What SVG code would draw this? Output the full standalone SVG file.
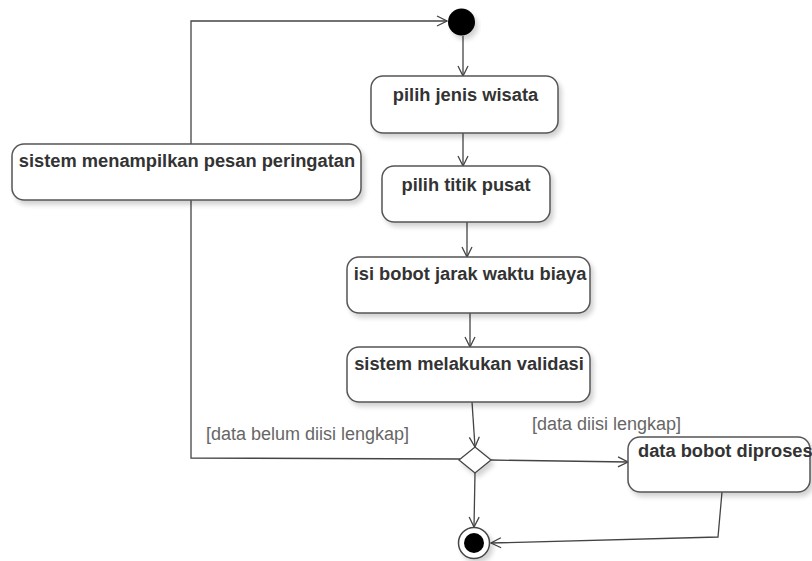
<svg xmlns="http://www.w3.org/2000/svg" width="812" height="561" viewBox="0 0 812 561">
  <defs>
    <marker id="open" viewBox="0 0 12 12" refX="11" refY="6" markerWidth="12" markerHeight="12" markerUnits="userSpaceOnUse" orient="auto">
      <path d="M1,1 L11,6 L1,11" fill="none" stroke="#444" stroke-width="1.3"/>
    </marker>
    <filter id="shadow" x="-10%" y="-10%" width="130%" height="140%">
      <feGaussianBlur in="SourceAlpha" stdDeviation="2.5"/>
      <feOffset dx="3" dy="4" result="b"/>
      <feComponentTransfer><feFuncA type="linear" slope="0.18"/></feComponentTransfer>
      <feMerge><feMergeNode/><feMergeNode in="SourceGraphic"/></feMerge>
    </filter>
  </defs>
  <style>
    .act { fill: #fff; stroke: #555; stroke-width: 1.5; filter: url(#shadow); }
    .lbl { font-family: "Liberation Sans", Arial, sans-serif; font-weight: bold; font-size: 18.3px; fill: #333; }
    .guard { font-family: "Liberation Sans", Arial, sans-serif; font-size: 18px; fill: #666; }
    .flow { fill: none; stroke: #444; stroke-width: 1.3; }
  </style>
  <rect width="812" height="561" fill="#fff"/>

  <!-- control flows -->
  <g id="connectors">
    <path class="flow" d="M460,459 L191,458 L191,21 L447,21" marker-end="url(#open)"/>
    <path class="flow" d="M463,36 L463,76" marker-end="url(#open)"/>
    <path class="flow" d="M463,133 L463,166" marker-end="url(#open)"/>
    <path class="flow" d="M467,222 L467,257" marker-end="url(#open)"/>
    <path class="flow" d="M470,313 L470,347" marker-end="url(#open)"/>
    <path class="flow" d="M472,402 L475,447" marker-end="url(#open)"/>
    <path class="flow" d="M491,460 L628,462" marker-end="url(#open)"/>
    <path class="flow" d="M475,473 L474,527" marker-end="url(#open)"/>
    <path class="flow" d="M722,492 L718,537 L491,543" marker-end="url(#open)"/>
  </g>

  <text class="guard" x="206" y="440">[data belum diisi lengkap]</text>
  <text class="guard" x="532" y="430">[data diisi lengkap]</text>

  <g id="initial">
    <circle cx="461.5" cy="22" r="13.5" fill="#000" filter="url(#shadow)"/>
  </g>

  <g id="pilih-jenis-wisata">
    <rect class="act" x="371" y="76" width="187" height="57" rx="12"/>
    <text class="lbl" x="465.5" y="101" text-anchor="middle">pilih jenis wisata</text>
  </g>

  <g id="sistem-menampilkan-pesan">
    <rect class="act" x="12" y="144" width="349" height="56" rx="12"/>
    <text class="lbl" x="187" y="167" text-anchor="middle">sistem menampilkan pesan peringatan</text>
  </g>

  <g id="pilih-titik-pusat">
    <rect class="act" x="382" y="166" width="168" height="56" rx="12"/>
    <text class="lbl" x="466" y="191" text-anchor="middle">pilih titik pusat</text>
  </g>

  <g id="isi-bobot">
    <rect class="act" x="347" y="257" width="243" height="56" rx="12"/>
    <text class="lbl" x="470" y="280" text-anchor="middle">isi bobot jarak waktu biaya</text>
  </g>

  <g id="sistem-melakukan-validasi">
    <rect class="act" x="347" y="347" width="243" height="55" rx="12"/>
    <text class="lbl" x="469" y="370" text-anchor="middle">sistem melakukan validasi</text>
  </g>

  <g id="decision">
    <path d="M475,447 L491,460 L475,473 L459,460 Z" fill="#fff" stroke="#444" stroke-width="1.3" filter="url(#shadow)"/>
  </g>

  <g id="data-bobot-diproses">
    <rect class="act" x="628" y="437" width="182" height="55" rx="12"/>
    <text class="lbl" x="638" y="457">data bobot diproses</text>
  </g>

  <g id="final">
    <circle cx="474" cy="543" r="15.5" fill="#fff" stroke="#444" stroke-width="1.5" filter="url(#shadow)"/>
    <circle cx="474" cy="543" r="10" fill="#000"/>
  </g>
</svg>
